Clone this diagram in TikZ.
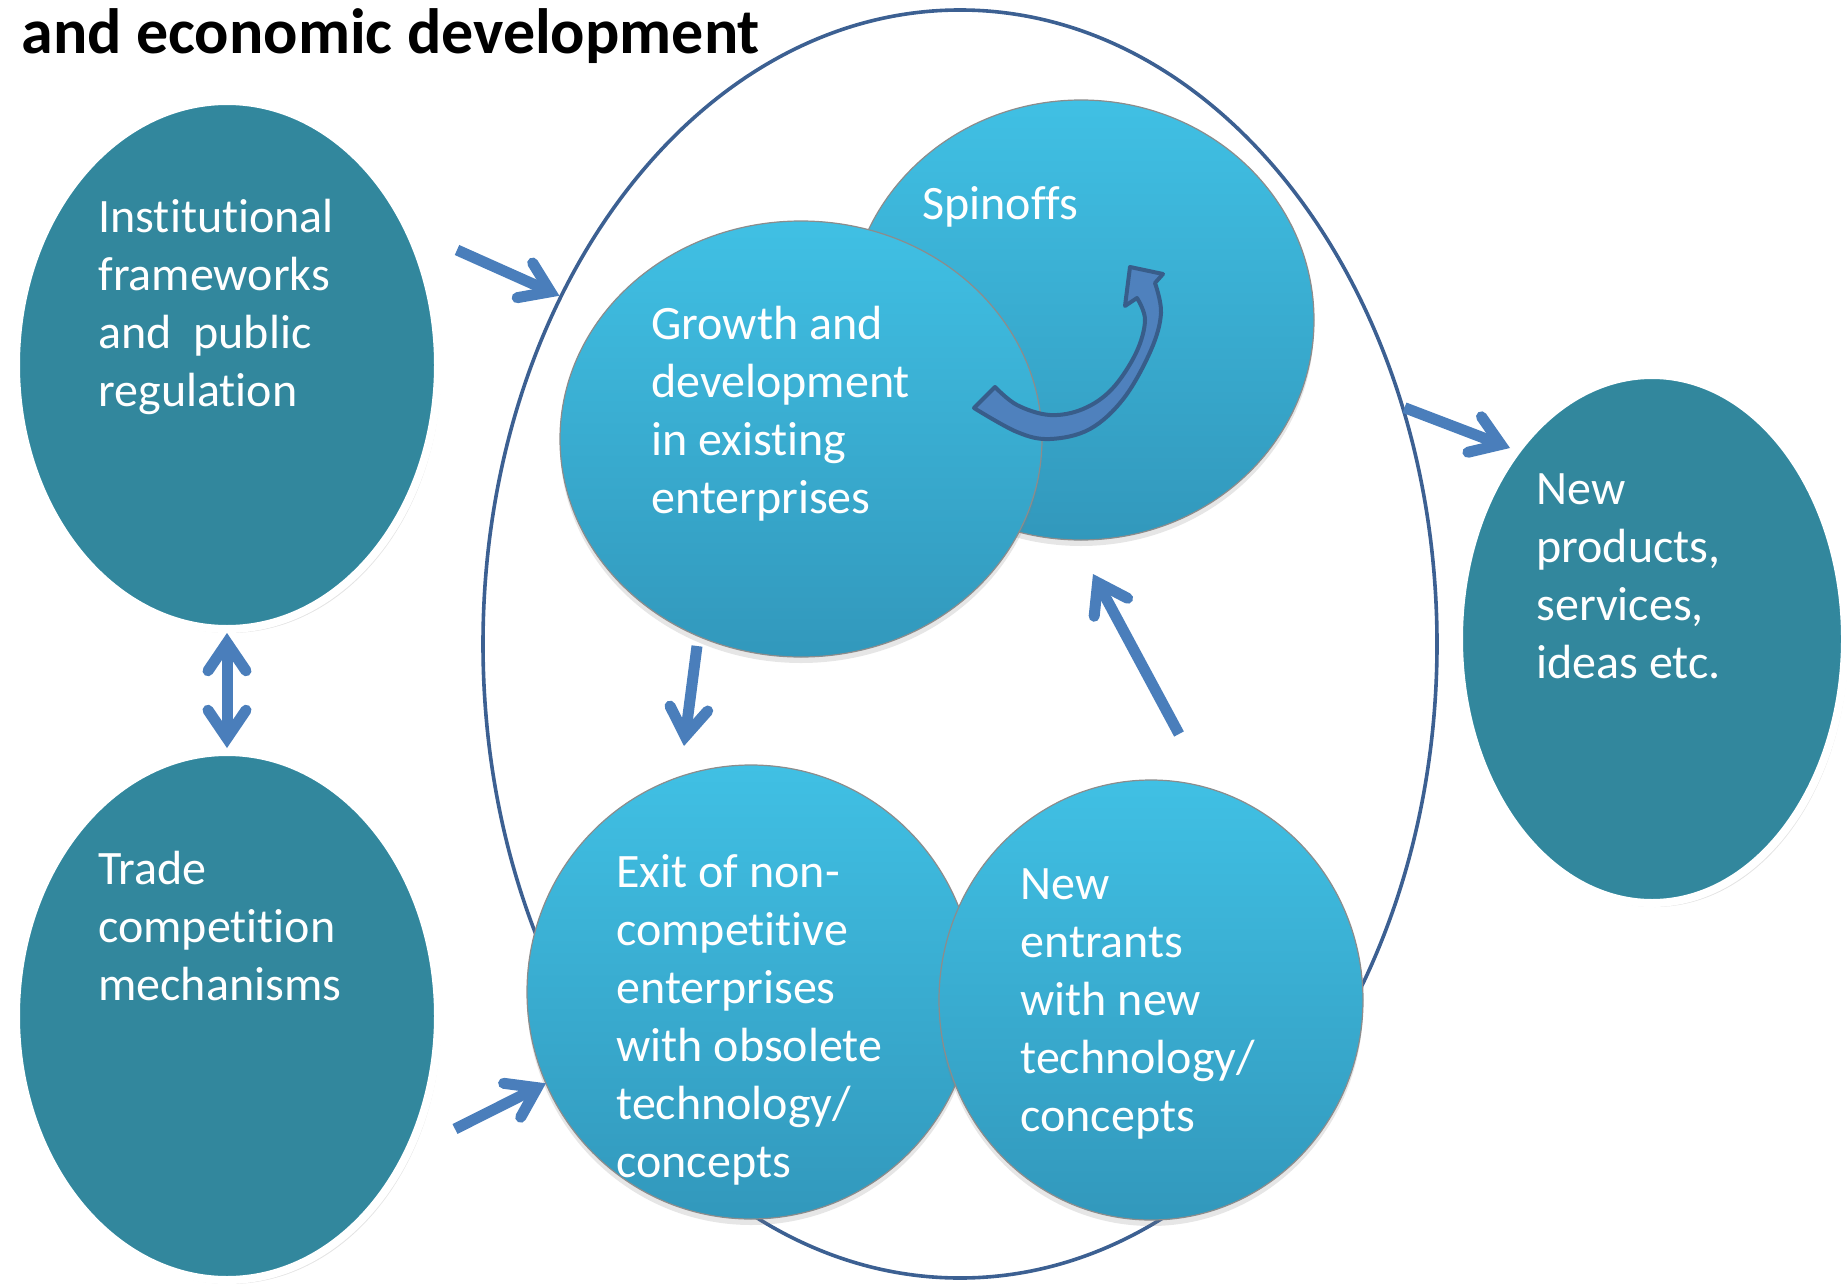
\documentclass[tikz,border=0pt]{standalone}
\usepackage{fontspec}
\setmainfont{Carlito}[Ligatures={NoCommon,NoRare,NoContextual}]
\usetikzlibrary{arrows.meta,shapes.geometric,shadows}
\definecolor{darkteal}{RGB}{50,135,157}
\definecolor{lighttop}{RGB}{64,192,228}
\definecolor{lightbot}{RGB}{50,152,188}
\definecolor{flowblue}{RGB}{74,126,187}
\definecolor{rimblue}{RGB}{60,96,146}
\definecolor{curvefill}{RGB}{79,129,189}
\definecolor{curveline}{RGB}{56,93,138}
\tikzset{
  flowtip/.tip={Straight Barb[length=14pt,width=19pt,line cap=round,line join=miter]},
  blob/.style={ellipse,inner sep=0pt,outer sep=0pt,fill=darkteal,draw=white,line width=4pt,
    drop shadow={opacity=0.22,shadow xshift=1.5pt,shadow yshift=-2pt}},
  bubble/.style={ellipse,inner sep=0pt,outer sep=0pt,top color=lighttop,bottom color=lightbot,
    draw=black!45,line width=0.6pt,drop shadow={opacity=0.2,shadow xshift=0pt,shadow yshift=-3pt}},
  flow/.style={draw=flowblue,line width=5.5pt,-flowtip},
  txt/.style={anchor=base west,text=white,align=flush left,text width=#1,inner sep=0pt,
    font=\fontsize{24}{29}\selectfont},
}
\begin{document}
\begin{tikzpicture}[x=0.5pt,y=-0.5pt]
  \useasboundingbox (0,0) rectangle (1847,1284);
  % outer frame round the enterprise dynamics
  \node[ellipse,draw=rimblue,line width=1.8pt,minimum width=477pt,minimum height=634pt,inner sep=0pt] (frame) at (960,644) {};
  % enterprise bubbles
  \node[bubble,minimum width=233pt,minimum height=220pt] (spin) at (1081,320) {};
  \node[txt=150pt] (spin-t) at (922,219) {Spinoffs};
  \node[bubble,minimum width=241pt,minimum height=218pt] (growth) at (801,439) {};
  \node[txt=150pt] (growth-t) at (651,339) {Growth and\\development\\in existing\\enterprises};
  \filldraw[fill=curvefill,draw=curveline,line width=2pt,line join=round]
    plot[smooth,tension=0.6] coordinates {(974,408) (1017,432) (1050,439) (1090,429) (1124,398) (1151,350) (1161,313) (1155,283)}
    -- (1163,274) -- (1130,267) -- (1125,306)
    -- plot[smooth,tension=0.6] coordinates {(1137,298) (1145,320) (1136,353) (1112,389) (1083,409) (1050,415) (1017,405) (995,387)}
    -- cycle;
  \node[bubble,minimum width=224pt,minimum height=227pt] (exit) at (751,992) {};
  \node[txt=150pt] (exit-t) at (616,887) {Exit of non-\\competitive\\enterprises\\with obsolete\\technology/\\concepts};
  \node[bubble,minimum width=212pt,minimum height=220pt] (entrants) at (1151,1000) {};
  \node[txt=150pt] (entrants-t) at (1020,899) {New\\entrants\\with new\\technology/\\concepts};
  % framework conditions and outcome
  \node[blob,minimum width=211pt,minimum height=264pt] (inst) at (227,365) {};
  \node[txt=150pt] (inst-t) at (98,232) {Institutional\\frameworks\\and~ public\\regulation};
  \node[blob,minimum width=211pt,minimum height=264pt] (trade) at (227,1016) {};
  \node[txt=150pt] (trade-t) at (98,884) {Trade\\competition\\mechanisms};
  \node[blob,minimum width=193pt,minimum height=264pt] (prod) at (1652,639) {};
  \node[txt=120pt] (prod-t) at (1536,504) {New\\products,\\services,\\ideas etc.};
  % arrows
  \coordinate (inst-out) at (457,250);
  \coordinate (trade-out) at (455,1129);
  \coordinate (prod-in) at (1510,448);
  \coordinate (growth-out) at (697,646);
  \coordinate (exit-in) at (684,746);
  \coordinate (entrants-out) at (1179,734);
  \coordinate (spin-in) at (1093,574);
  \draw[flow] (inst-out) -- (frame.139);
  \draw[flow] (trade-out) -- (exit.204);
  \draw[flow] (frame.28) -- (prod-in);
  \draw[flow,flowtip-flowtip,shorten <=2pt,shorten >=2pt] (inst.south) -- (trade.north);
  \draw[flow] (growth-out) -- (exit-in);
  \draw[flow] (entrants-out) -- (spin-in);
  % heading, cut at the top
  \node[anchor=base west,inner sep=0pt,font=\bfseries\fontsize{32}{38}\selectfont] (title) at (21,54) {and economic development};
\end{tikzpicture}
\end{document}
